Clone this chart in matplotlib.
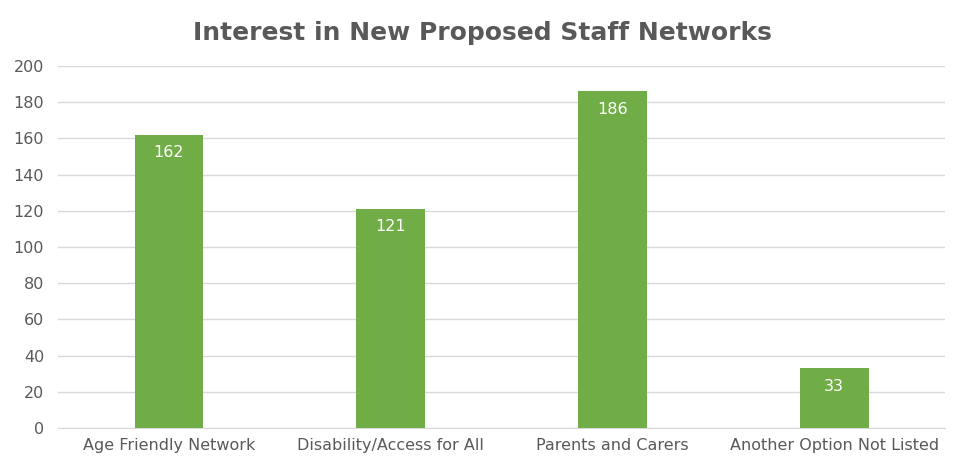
import matplotlib.pyplot as plt

categories = ['Age Friendly Network', 'Disability/Access for All',
              'Parents and Carers', 'Another Option Not Listed']
values = [162, 121, 186, 33]
yticks = list(range(0, 201, 20))


def main():
    grey = '#595959'
    green = '#70AD47'
    fig = plt.figure(figsize=(9.54, 4.73), dpi=100)
    ax = fig.add_axes([0.0608, 0.0951, 0.9298, 0.7654])

    x = range(len(categories))
    bars = ax.bar(x, values, width=0.31, color=green, zorder=3)
    for b, v in zip(bars, values):
        ax.annotate(str(v), (b.get_x() + b.get_width() / 2, v),
                    xytext=(0, -7.5), textcoords='offset points',
                    ha='center', va='top', color='white', fontsize=11.5, zorder=4)

    ax.set_xlim(-0.5, len(categories) - 0.5)
    ax.set_ylim(0, 200)
    ax.set_yticks(yticks)
    ax.set_xticks(list(x))
    ax.set_xticklabels(categories)
    ax.grid(axis='y', color='#D9D9D9', linewidth=1, zorder=0)
    for s in ['top', 'right', 'left']:
        ax.spines[s].set_visible(False)
    ax.spines['bottom'].set_color('#D9D9D9')
    ax.tick_params(axis='both', length=0, colors=grey, labelsize=11.5)
    ax.tick_params(axis='y', pad=10)
    ax.tick_params(axis='x', pad=7)

    fig.text(0.506, 0.93, 'Interest in New Proposed Staff Networks', fontsize=18,
             fontweight='bold', color=grey, ha='center', va='center')
    fig.savefig('out.png', dpi=100)


if __name__ == '__main__':
    main()
